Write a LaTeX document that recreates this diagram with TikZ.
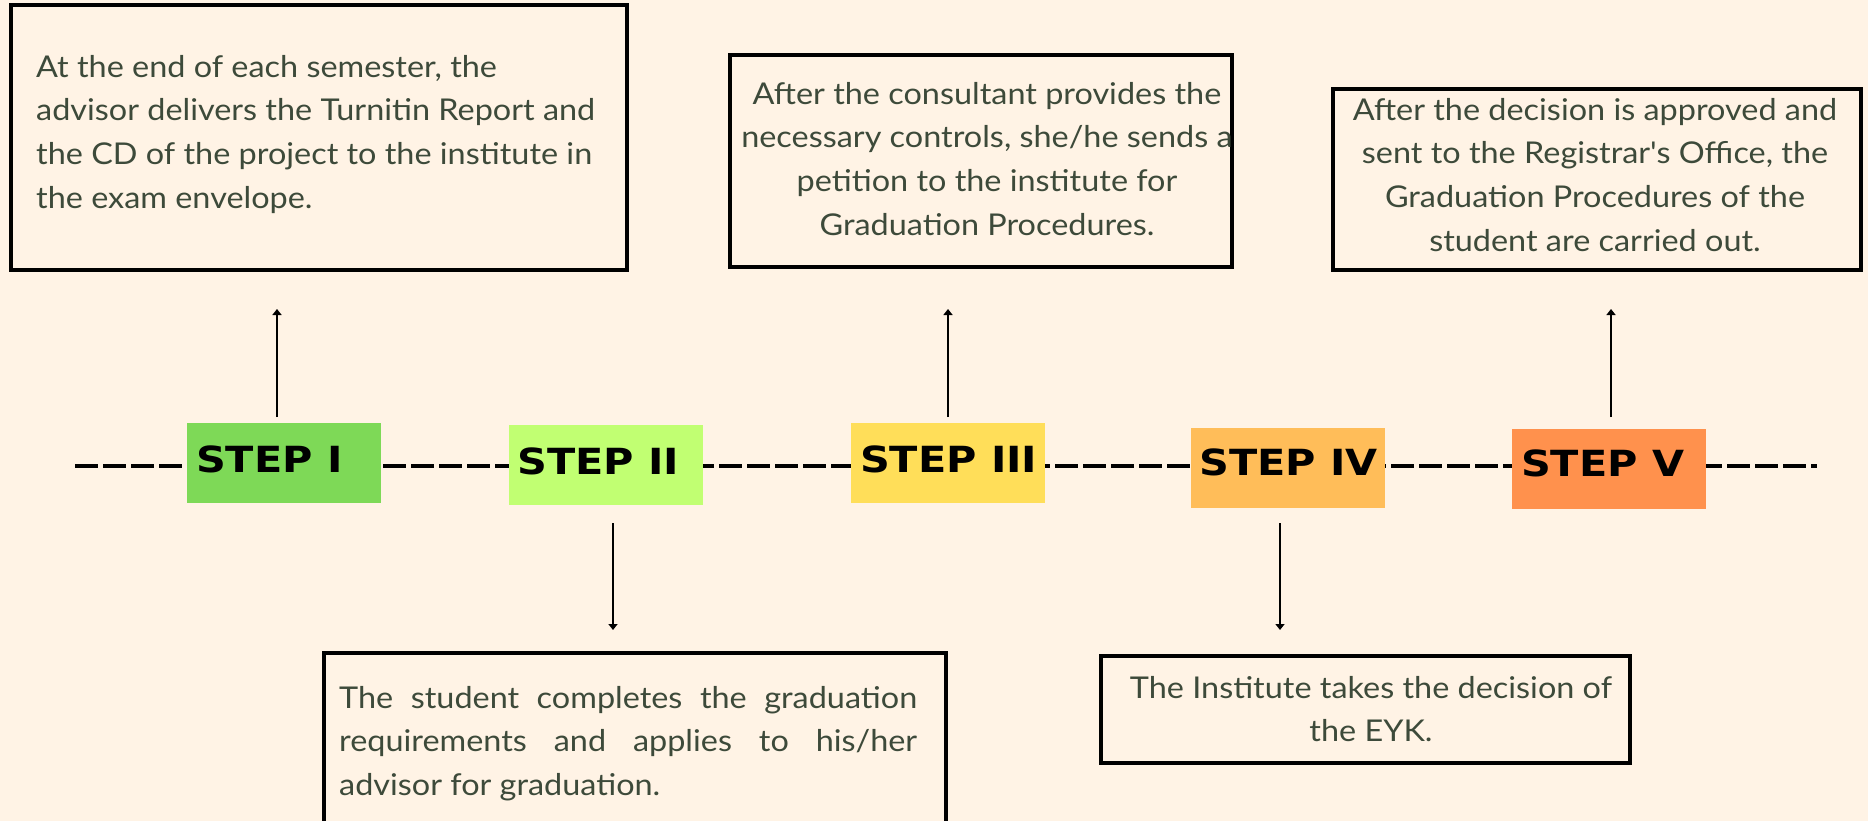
\documentclass[tikz,border=0pt]{standalone}
\usepackage{fontspec}
\setmainfont{Lato}[FakeStretch=1.08,Ligatures=TeXOff]
\newfontfamily\stepfont{DejaVu Sans}[FakeStretch=1.15]
\usetikzlibrary{arrows.meta}
\definecolor{bg}{HTML}{FFF3E5}
\definecolor{txt}{HTML}{3D4A3A}
\definecolor{cI}{HTML}{7ED957}
\definecolor{cII}{HTML}{C1FF72}
\definecolor{cIII}{HTML}{FFDE59}
\definecolor{cIV}{HTML}{FFBD59}
\definecolor{cV}{HTML}{FF914D}
\begin{document}
\begin{tikzpicture}[x=1pt,y=-1pt,
  textbox/.style={draw=black,line width=4pt,fill=bg,rectangle,inner sep=0pt},
  stepbox/.style={rectangle,minimum width=194pt,minimum height=80pt,inner sep=0pt},
  steptext/.style={font=\stepfont\bfseries\fontsize{36}{36}\selectfont,inner sep=0pt,text=black,anchor=base west},
  body/.style={font=\fontsize{30}{43.6}\selectfont,text=txt,inner sep=0pt},
  arr/.style={line width=2pt,-{Triangle[width=9pt,length=6pt]}},
  timeline/.style={line width=4pt,dash pattern=on 23pt off 5pt}]
\useasboundingbox (0,0) rectangle (1868,821);
\fill[bg] (0,0) rectangle (1868,821);

% timeline
\coordinate (tl0) at (75,466);
\coordinate (tl1) at (1817,466);
\draw[timeline] (tl0) -- (tl1);

% steps
\node[stepbox,fill=cI]   (s1) at (284,463) {};
\node[stepbox,fill=cII]  (s2) at (605.5,465) {};
\node[stepbox,fill=cIII] (s3) at (948,463) {};
\node[stepbox,fill=cIV]  (s4) at (1287.5,468) {};
\node[stepbox,fill=cV]   (s5) at (1609,469) {};
\node[steptext] (t1) at ([xshift=9pt,yshift=-50pt]s1.north west) {STEP I};
\node[steptext] (t2) at ([xshift=9pt,yshift=-50pt]s2.north west) {STEP II};
\node[steptext] (t3) at ([xshift=9pt,yshift=-50pt]s3.north west) {STEP III};
\node[steptext] (t4) at ([xshift=9pt,yshift=-48pt]s4.north west) {STEP IV};
\node[steptext] (t5) at ([xshift=9pt,yshift=-48pt]s5.north west) {STEP V};

% text boxes
\node[textbox,minimum width=616pt,minimum height=264pt] (b1) at (319,137.5) {};
\node[textbox,minimum width=502.5pt,minimum height=211.5pt] (b3) at (980.75,160.75) {};
\node[textbox,minimum width=528.5pt,minimum height=180pt] (b5) at (1596.75,179.5) {};
\node[textbox,minimum width=622pt,minimum height=170pt] (b2) at (635,737.5) {};
\node[textbox,minimum width=529pt,minimum height=107pt] (b4) at (1365.5,709) {};

\node[body,anchor=north west,align=left] (x1) at (36,55) {At the end of each semester, the\\advisor delivers the Turnitin Report and\\the CD of the project to the institute in\\the exam envelope.};
\node[body,anchor=north,align=center] (x3) at (987,82) {After the consultant provides the\\necessary controls, she/he sends a\\petition to the institute for\\Graduation Procedures.};
\node[body,anchor=north,align=center] (x5) at (1595,98) {After the decision is approved and\\sent to the Registrar's Office, the\\Graduation Procedures of the\\student are carried out.};
\node[body,anchor=north west,align=left] (x2) at (339,686) {\makebox[578pt][s]{The student completes the graduation}\\\makebox[578pt][s]{requirements and applies to his/her}\\advisor for graduation.};
\node[body,anchor=north,align=center] (x4) at (1371,676) {The Institute takes the decision of\\the EYK.};

% arrows
\coordinate (a1b) at (277,417); \coordinate (a1t) at (277,309);
\coordinate (a3b) at (948,417); \coordinate (a3t) at (948,309);
\coordinate (a5b) at (1611,417); \coordinate (a5t) at (1611,309);
\coordinate (a2t) at (613,523); \coordinate (a2b) at (613,630);
\coordinate (a4t) at (1280,523); \coordinate (a4b) at (1280,630);
\draw[arr] (a1b) -- (a1t);
\draw[arr] (a3b) -- (a3t);
\draw[arr] (a5b) -- (a5t);
\draw[arr] (a2t) -- (a2b);
\draw[arr] (a4t) -- (a4b);
\end{tikzpicture}
\end{document}
